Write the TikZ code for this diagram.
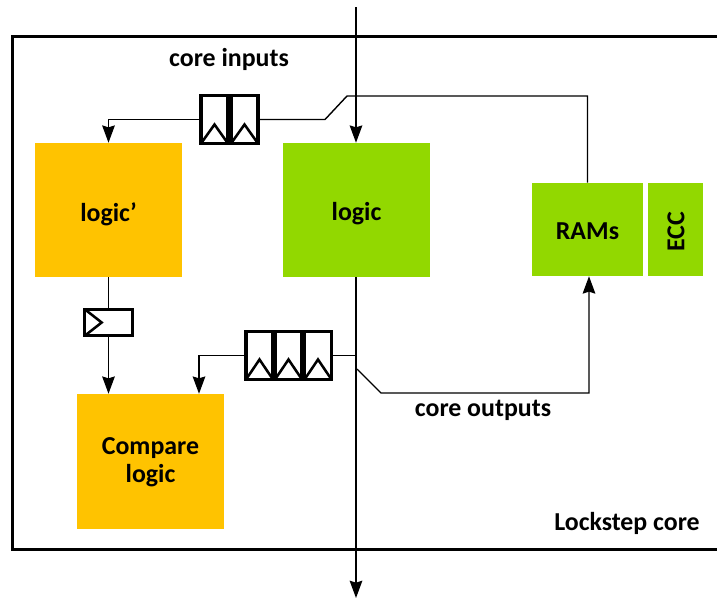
\documentclass[tikz,border=0pt]{standalone}
\usepackage{fontspec}
\setmainfont{Carlito}
\usetikzlibrary{arrows.meta,calc}
\definecolor{amber}{RGB}{255,195,0}
\definecolor{lime}{RGB}{146,216,0}
\tikzset{
  x=0.75pt,y=-0.75pt,
  block/.style={fill=#1,inner sep=0pt,font=\fontsize{19.4}{21}\selectfont\bfseries,align=center,text=black},
  lbl/.style={inner sep=0pt,font=\fontsize{19.4}{21}\selectfont\bfseries,text=black},
  flop/.style={draw=black,line width=2.3pt,fill=white,inner sep=0pt,minimum width=20.25pt,minimum height=36pt,outer sep=0pt},
  wire/.style={draw=black,line width=1.05pt},
  arr/.style={wire,-{Stealth[length=13pt,width=9.5pt,inset=1.5pt]}},
  clk/.style={draw=black,line width=1.9pt,line join=miter}
}
\begin{document}
\begin{tikzpicture}
\useasboundingbox (0,0) rectangle (717,600);
\clip (0,0) rectangle (717,600);
% frame
\node[draw=black,line width=2pt,inner sep=0pt,outer sep=0pt,minimum width=566pt,minimum height=384.5pt,anchor=north west] (core) at (12.5,36.5) {};
% blocks
\node[block=amber,minimum width=110.25pt,minimum height=100.5pt] (logicp) at (108.5,210) {};
\node[lbl] (logicptxt) at (108.5,214) {logic’};
\node[block=lime,minimum width=110.25pt,minimum height=100.5pt] (logic) at (356.5,210) {};
\node[lbl] (logictxt) at (356.5,214) {logic};
\node[block=lime,minimum width=83.25pt,minimum height=69.75pt] (rams) at (587.5,229.5) {};
\node[lbl] (ramstxt) at (587.5,231.5) {RAMs};
\node[block=lime,minimum width=41.25pt,minimum height=69.75pt] (ecc) at (675.5,229.5) {};
\node[lbl] (ecctxt) at (676,232) {\rotatebox{90}{ECC}};
\node[block=amber,minimum width=110.25pt,minimum height=101.25pt] (cmp) at (150.5,461.5) {};
\node[block=none,anchor=center] (cmptxt) at (150.5,462.5) {Compare\\logic};
% flops
\node[flop] (fa) at (214.5,119.5) {};
\node[flop] (fb) at (244.5,119.5) {};
\node[flop] (ga) at (259.5,355.5) {};
\node[flop] (gb) at (288.5,355.5) {};
\node[flop] (gc) at (318,355.5) {};
\node[flop,minimum width=35.75pt,minimum height=20pt] (h) at (108.5,322.5) {};
% clock marks
\draw[clk] (fa.south west) -- ($(fa.south)+(0,-19)$) -- (fa.south east);
\draw[clk] (fb.south west) -- ($(fb.south)+(0,-19)$) -- (fb.south east);
\draw[clk] (ga.south west) -- ($(ga.south)+(0,-20)$) -- (ga.south east);
\draw[clk] (gb.south west) -- ($(gb.south)+(0,-20)$) -- (gb.south east);
\draw[clk] (gc.south west) -- ($(gc.south)+(0,-20)$) -- (gc.south east);
\draw[clk] (h.north west) -- ($(h.west)+(17,0)$) -- (h.south west);
% free ends
\coordinate (topin) at (356,7);
\coordinate (botout) at (356,598);
\coordinate (bend1) at (347,96);
\coordinate (bend2) at (325,119.5);
\coordinate (tap1) at (356,355.5);
\coordinate (tap2) at (357,369);
\coordinate (bend3) at (381,393);
% connectors
\draw[arr] (topin) -- (logic.north -| topin);
\draw[arr] (logic.south -| botout) -- (botout);
\draw[wire] (rams.north) -- (rams.north |- bend1) -- (bend1) -- (bend2) -- (fb.east);
\draw[arr] (fa.west) -- (fa.west -| logicp.north) -- (logicp.north);
\draw[wire] (logicp.south) -- (h.north -| logicp.south);
\draw[arr] (h.south -| logicp.south) -- (logicp.south |- cmp.north);
\draw[arr] (ga.west) -- ($(ga.west -| cmp.north)+(48.5,0)$) -- ($(cmp.north)+(48.5,0)$);
\draw[wire] (gc.east) -- (tap1);
\draw[arr] (tap2) -- (bend3) -- ($(bend3 -| rams.south)+(1.5,0)$) -- ($(rams.south)+(1.5,0)$);
% labels
\node[lbl] (inlbl) at (229,59) {core inputs};
\node[lbl] (outlbl) at (483,410) {core outputs};
\node[lbl] (corelbl) at (627,523) {Lockstep core};
\end{tikzpicture}
\end{document}
